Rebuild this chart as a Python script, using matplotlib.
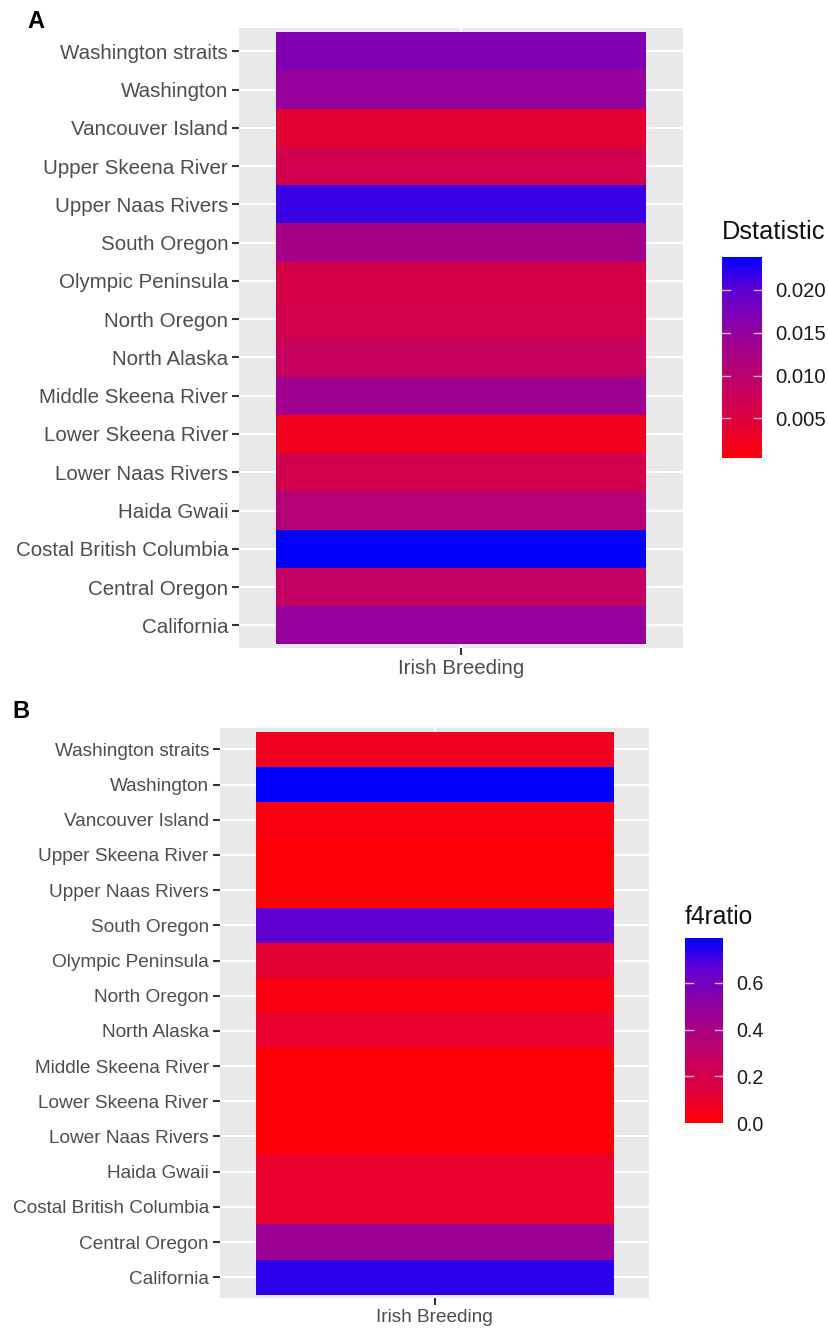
import numpy as np
import matplotlib
matplotlib.use("Agg")
import matplotlib.pyplot as plt
import matplotlib.colors as mc

# populations, bottom -> top (ggplot puts the first factor level at the bottom)
regions = ["California", "Central Oregon", "Costal British Columbia", "Haida Gwaii",
           "Lower Naas Rivers", "Lower Skeena River", "Middle Skeena River", "North Alaska",
           "North Oregon", "Olympic Peninsula", "South Oregon", "Upper Naas Rivers",
           "Upper Skeena River", "Vancouver Island", "Washington", "Washington straits"]
target = ["Irish Breeding"]

dstat = [0.0147, 0.0088, 0.0238, 0.0108, 0.0065, 0.0023, 0.0133, 0.0081,
         0.0063, 0.0059, 0.0127, 0.0215, 0.0066, 0.0040, 0.0148, 0.0168]
dstat_lim = (0.0004, 0.0238)
dstat_ticks = [0.005, 0.010, 0.015, 0.020]

f4ratio = [0.73, 0.46, 0.10, 0.10, 0.0, 0.0, 0.0, 0.10,
           0.03, 0.12, 0.66, 0.0, 0.0, 0.03, 0.79, 0.07]
f4_lim = (0.0, 0.79)
f4_ticks = [0.0, 0.2, 0.4, 0.6]

# red -> blue ramp as it shows up in the rendered legend
ramp_pos = [0.0, 0.197, 0.41, 0.624, 0.838, 1.0]
ramp_col = ["#FF0008", "#DC0040", "#BC006E", "#94009E", "#6000D4", "#0000FF"]
cmap = mc.LinearSegmentedColormap.from_list("rb", list(zip(ramp_pos, ramp_col)))

W, H = 829, 1329
plt.rcParams["font.family"] = ["Liberation Sans", "DejaVu Sans"]


def rect(l, t, r, b):
    return [l / W, 1 - b / H, (r - l) / W, (b - t) / H]


def panel(fig, box, cbox, vals, lim, ticks, title, title_y, fs, lab_fs, tick_fmt, letter, letter_xy):
    ax = fig.add_axes(rect(*box))
    norm = mc.Normalize(*lim)
    ax.set_facecolor("#E9E9E9")
    ax.pcolormesh(np.arange(len(target) + 1) - 0.5, np.arange(len(regions) + 1) - 0.5,
                  np.array(vals)[:, None], cmap=cmap, norm=norm, zorder=2)
    ax.set_xlim(-0.6, 0.6); ax.set_ylim(-0.6, len(regions) - 0.4)
    ax.set_yticks(range(len(regions)), regions)
    ax.set_xticks(range(len(target)), target)
    ax.tick_params(length=4.8, width=1.5, color="#333333", labelcolor="#4D4D4D",
                   labelsize=fs, pad=3.2)
    ax.grid(True, color="white", lw=1.4, zorder=1)
    ax.set_axisbelow(True)
    for s in ax.spines.values():
        s.set_visible(False)

    cax = fig.add_axes(rect(*cbox))
    cb = fig.colorbar(plt.cm.ScalarMappable(norm=norm, cmap=cmap), cax=cax)
    cb.outline.set_visible(False)
    cb.set_ticks(ticks, labels=[tick_fmt.format(t) for t in ticks])
    cax.tick_params(length=0, pad=9.5, labelsize=lab_fs, labelcolor="#1A1A1A")
    for t in ticks:
        if lim[0] < t < lim[1]:
            cax.plot([0, 0.2], [t, t], color="white", lw=1.0, alpha=0.7)
            cax.plot([0.8, 1.0], [t, t], color="white", lw=1.0, alpha=0.7)
    fig.text(cbox[0] / W, 1 - title_y / H, title, fontsize=lab_fs * 1.25, va="center", ha="left",
             color="#111111")
    fig.text(letter_xy[0] / W, 1 - letter_xy[1] / H, letter, fontsize=17, fontweight="bold",
             ha="left", va="center")


fig = plt.figure(figsize=(W / 100, H / 100), dpi=100)
panel(fig, (239.3, 28.3, 682.7, 648.3), (721.7, 257, 762.3, 458), dstat, dstat_lim, dstat_ticks,
      "Dstatistic", 232, 14.8, 14.6, "{:.3f}", "A", (27, 21))
panel(fig, (220, 728.3, 649.3, 1298.3), (685, 938.3, 722.7, 1123.3), f4ratio, f4_lim, f4_ticks,
      "f4ratio", 917, 13.7, 14.2, "{:.1f}", "B", (12, 712))
fig.savefig("out.png", dpi=100)
